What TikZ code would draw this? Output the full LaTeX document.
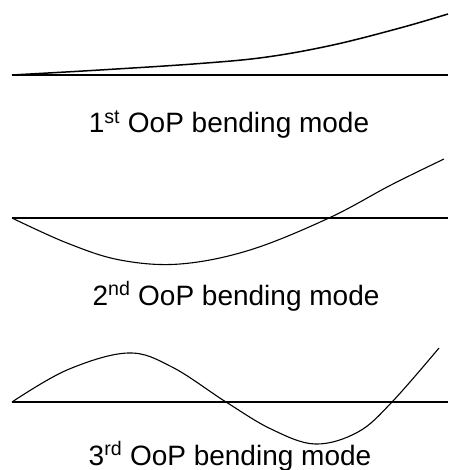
\documentclass[tikz,border=0pt]{standalone}
\usepackage{fontspec}
\setmainfont{Liberation Sans}
\usetikzlibrary{positioning}

\begin{document}
\begin{tikzpicture}[
        x=1pt, y=-1pt,
        font=\fontsize{28}{32}\selectfont,
        axisline/.style={line width=1.1pt, line cap=butt},
        modeshape/.style={line width=1.1pt, smooth, tension=0.6},
        caption/.style={anchor=base, inner sep=0pt}
      ]
        \useasboundingbox (0,0) rectangle (448,470);
        % 1st mode
        \draw[axisline, line width=1.5pt] (12,75) -- (448,75);
        \draw[modeshape, line width=1.5pt] plot coordinates {(12,75) (100,70) (200,63.5) (267,57) (333,45) (400,28) (448,14)};
        \node[caption] (lbl1) at (229,133) {1\textsuperscript{st} OoP bending mode};
        % 2nd mode
        \draw[axisline] (12,218) -- (448,218);
        \draw[modeshape] plot coordinates {(12,218) (67,243) (120,260) (180,264) (250,250) (329,218) (391,185) (444,159)};
        \node[caption] (lbl2) at (236,305) {2\textsuperscript{nd} OoP bending mode};
        % 3rd mode
        \draw[axisline] (12,402) -- (448,402);
        \draw[modeshape] plot coordinates {(12,402) (67,370) (128,353) (172,367) (226,402) (271,429) (315,444) (358,432) (392,402) (439,348)};
        \node[caption] (lbl3) at (230,465) {3\textsuperscript{rd} OoP bending mode};
      \end{tikzpicture}
\end{document}
